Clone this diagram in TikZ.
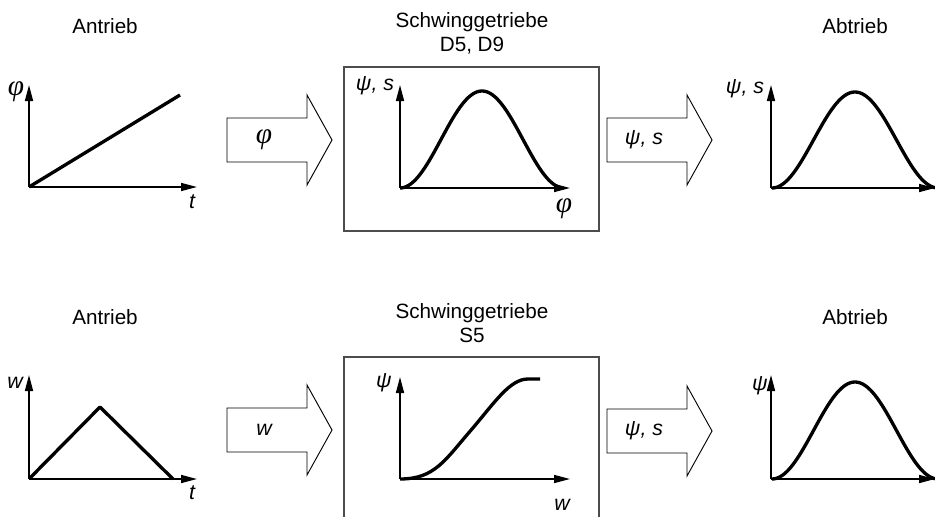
\documentclass[tikz,border=0pt]{standalone}
\usepackage{fontspec}
\setmainfont{Liberation Sans}
\newfontfamily\grserif{Liberation Serif}
\newcommand\phisym{{\grserif\itshape\fontsize{22}{22}\selectfont φ}}
\usetikzlibrary{arrows.meta}

\begin{document}
\begin{tikzpicture}[x=0.75pt,y=-0.75pt,
  axis/.style={line width=1.2pt,-{Triangle[length=12pt,width=6pt]}},
  graph/.style={line width=2.5pt,line join=round},
  frame/.style={draw=black!70,line width=1.1pt},
  bigarrow/.style={draw,line width=0.7pt,line join=miter},
  title/.style={font=\fontsize{15.5}{18}\selectfont,anchor=base},
  lbl/.style={font=\fontsize{16}{18}\selectfont\itshape,inner sep=0pt}]
\useasboundingbox (0,0) rectangle (935,517); \clip (0,0) rectangle (935,517);
% titles and frames, upper and lower row
\foreach \r/\dy/\typ in {A/0/{D5, D9},B/290/S5} {
  \node[title] (antrieb\r) at (105,34+\dy) {Antrieb};
  \node[title] (schwing\r) at (472,28+\dy) {Schwinggetriebe};
  \node[title] (typ\r) at (472,52+\dy) {\typ};
  \node[title] (abtrieb\r) at (855,34+\dy) {Abtrieb};
  \draw[frame] (344,67+\dy) rectangle (599,231+\dy);
}
% block arrows
\foreach \x/\y/\lab [count=\i] in {227/140/\phisym,607/140/{ψ, s},227/430/w,607/431/{ψ, s}} {
  \draw[bigarrow] (\x,\y-22) -- (\x+80,\y-22) -- (\x+80,\y-45) -- (\x+105,\y) -- (\x+80,\y+45) -- (\x+80,\y+22) -- (\x,\y+22) -- cycle;
  \node[lbl] (pfeil\i) at (\x+37,\y) {\lab};
}
% Antrieb
\draw[axis] (29,187) -- (29,85); \draw[axis] (29,187) -- (197,187);
\draw[graph] (29,187) -- (180,95);
\node[lbl] (phiA) at (16,92) {\phisym}; \node[lbl] (tA) at (192,202) {t};
\draw[axis] (29,479) -- (29,375); \draw[axis] (29,479) -- (197,479);
\draw[graph] (29,479) -- (100,407) -- (173,479);
\node[lbl] (wA) at (15,383) {w}; \node[lbl] (tB) at (192,493) {t};
% Schwinggetriebe
\draw[axis] (400,188) -- (400,85); \draw[axis] (400,188) -- (570,188);
\draw[graph,domain=0:1,samples=80] plot ({400+164*\x},{188-48.5*(1-cos(360*\x))});
\node[lbl] (psiA) at (375,86) {ψ, s}; \node[lbl] (phiB) at (564,209) {\phisym};
\draw[axis] (400,479) -- (400,377); \draw[axis] (400,479) -- (570,479);
\draw[graph] (400,479) .. controls (435,479) and (445,460) .. (472,429) .. controls (495,402) and (510,379) .. (528,379) -- (540,379);
\node[lbl] (psiB) at (384,383) {ψ}; \node[lbl] (wB) at (562,505) {w};
% Abtrieb
\draw[axis] (771,188) -- (771,85); \draw[axis] (771,188) -- (935,188);
\draw[graph,domain=0:1,samples=80] plot ({772+166*\x},{188-48*(1-cos(360*\x))});
\node[lbl] (psiC) at (745,89) {ψ, s};
\draw[axis] (771,479) -- (771,375); \draw[axis] (771,479) -- (935,479);
\draw[graph,domain=0:1,samples=80] plot ({772+166*\x},{479-48.5*(1-cos(360*\x))});
\node[lbl] (psiD) at (760,386) {ψ};
\end{tikzpicture}
\end{document}
